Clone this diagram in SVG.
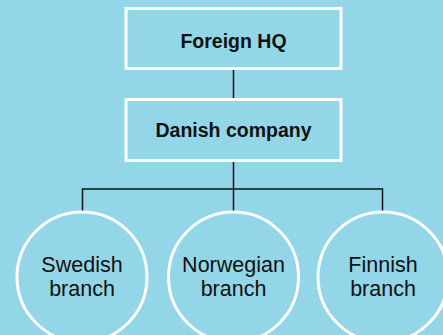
<svg xmlns="http://www.w3.org/2000/svg" width="443" height="335" viewBox="0 0 443 335">
<style>
.box{fill:none;stroke:#fff;stroke-width:3}
.conn{fill:none;stroke:#111;stroke-width:1.5}
.b{font-family:"Liberation Sans",Arial,sans-serif;font-weight:bold;font-size:19.5px;fill:#111;text-anchor:middle}
.t{font-family:"Liberation Sans",Arial,sans-serif;font-size:21.5px;fill:#111;text-anchor:middle}
</style>
<rect width="443" height="335" fill="#93d6e7"/>
<g id="connectors">
<path class="conn" d="M233.5 69V99M233.5 161V189M82.5 212V189H382.5V212M233.5 189V212"/>
</g>
<g id="foreign-hq">
<rect class="box" x="126" y="8.5" width="215" height="60"/>
<text class="b" x="233.5" y="48">Foreign HQ</text>
</g>
<g id="danish-company">
<rect class="box" x="126" y="99.5" width="215" height="61"/>
<text class="b" x="233.5" y="137">Danish company</text>
</g>
<g id="swedish">
<circle class="box" cx="82" cy="277" r="65"/>
<text class="t" x="82" y="272">Swedish</text>
<text class="t" x="82" y="296">branch</text>
</g>
<g id="norwegian">
<circle class="box" cx="233.5" cy="277" r="65"/>
<text class="t" x="233.5" y="272">Norwegian</text>
<text class="t" x="233.5" y="296">branch</text>
</g>
<g id="finnish">
<circle class="box" cx="383" cy="277" r="65"/>
<text class="t" x="383" y="272">Finnish</text>
<text class="t" x="383" y="296">branch</text>
</g>
</svg>
